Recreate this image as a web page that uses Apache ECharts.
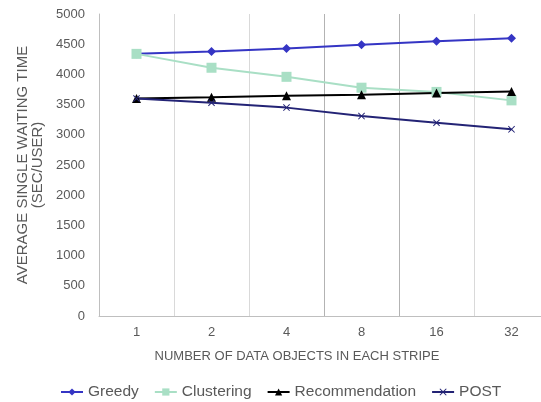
<!DOCTYPE html>
<html>
<head>
<meta charset="utf-8">
<script src="https://cdn.jsdelivr.net/npm/echarts@6/dist/echarts.min.js"></script>
<style>
  html, body { margin: 0; padding: 0; background: #fff; }
  #chart { width: 541px; height: 402px; }
</style>
</head>
<body>
<div id="chart"></div>
<script>
var stripes = ['1', '2', '4', '8', '16', '32'];
var greedy = [4340, 4380, 4430, 4490, 4550, 4600];
var clustering = [4340, 4110, 3960, 3780, 3710, 3570];
var recommendation = [3600, 3620, 3645, 3665, 3690, 3715];
var post = [3600, 3530, 3450, 3310, 3200, 3090];

var textColor = '#595959';
var fontFamily = '"Liberation Sans", Arial, sans-serif';
var crossPath = 'path://M0,1L1,0L5,4L9,0L10,1L6,5L10,9L9,10L5,6L1,10L0,9L4,5Z';

var makeSeries = function (name, data, color, symbol, size) {
    return {
        name: name,
        type: 'line',
        data: data,
        symbol: symbol,
        symbolSize: size,
        lineStyle: { color: color, width: 2 },
        itemStyle: { color: color },
        emphasis: { disabled: true }
    };
};

var option = {
    animation: false,
    textStyle: { fontFamily: fontFamily },
    grid: { left: 99, top: 14, width: 450, bottom: 86, outerBoundsMode: 'none' },
    legend: {
        top: 379,
        left: 55,
        itemWidth: 22,
        itemHeight: 9,
        itemGap: 15,
        textStyle: { color: textColor, fontSize: 15.5, fontFamily: fontFamily },
        data: ['Greedy', 'Clustering', 'Recommendation', 'POST']
    },
    xAxis: {
        type: 'category',
        data: stripes,
        name: 'NUMBER OF DATA OBJECTS IN EACH STRIPE',
        nameLocation: 'middle',
        nameGap: 34,
        nameTextStyle: { color: textColor, fontSize: 13, padding: [0, 54, 0, 0] },
        axisLine: { lineStyle: { color: '#bfbfbf', width: 1 } },
        axisTick: { show: false },
        axisLabel: { color: textColor, fontSize: 13, margin: 10 },
        splitLine: {
            show: true,
            lineStyle: { color: ['#bfbfbf', '#d9d9d9', '#d9d9d9', '#b3b3b3', '#b3b3b3', '#d9d9d9', '#d9d9d9'], width: 1 }
        }
    },
    yAxis: {
        type: 'value',
        min: 0,
        max: 5000,
        interval: 500,
        name: 'AVERAGE SINGLE WAITING TIME\n(SEC/USER)',
        nameLocation: 'middle',
        nameGap: 54,
        nameTextStyle: { color: textColor, fontSize: 15, lineHeight: 15 },
        axisLine: { show: true, lineStyle: { color: '#bfbfbf', width: 1 } },
        axisTick: { show: false },
        axisLabel: {
            color: textColor,
            fontSize: 13,
            margin: 14,
            formatter: function (v) { return String(v); }
        },
        splitLine: { show: false }
    },
    series: [
        makeSeries('Greedy', greedy, '#3535c4', 'diamond', 9),
        makeSeries('Clustering', clustering, '#a9dfc5', 'rect', 10),
        makeSeries('Recommendation', recommendation, '#000000', 'triangle', 9),
        makeSeries('POST', post, '#232375', crossPath, 7)
    ]
};

echarts.init(document.getElementById('chart')).setOption(option);
</script>
</body>
</html>
